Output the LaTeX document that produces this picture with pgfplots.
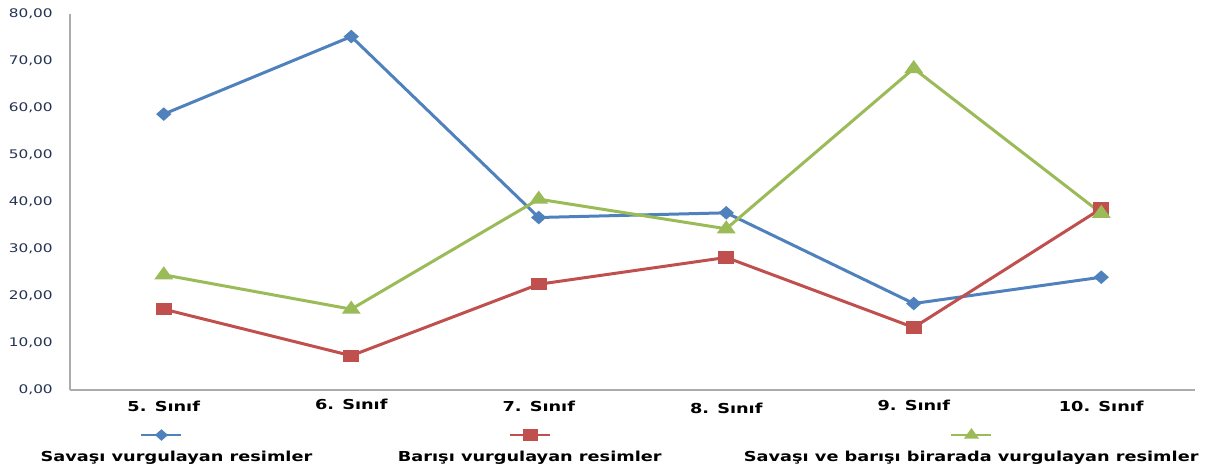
\documentclass[border=0pt]{standalone}
\usepackage{fontspec}
\setmainfont{DejaVu Sans}[FakeStretch=1.29]
\usepackage{pgfplots}
\pgfplotsset{compat=1.18}
\definecolor{sblue}{HTML}{4F81BD}
\definecolor{sred}{HTML}{C0504D}
\definecolor{sgreen}{HTML}{9BBB59}
\definecolor{ytxt}{HTML}{253352}
\pgfplotsset{
  legblue/.style={legend image code/.code={\draw[overlay,##1,line width=2pt,mark size=3pt,mark repeat=2,mark phase=2] plot coordinates {(76.7pt,19.5pt)(91.7pt,19.5pt)(106.7pt,19.5pt)};\path (0pt,0pt);}},
  legred/.style={legend image code/.code={\draw[overlay,##1,line width=2pt,mark repeat=2,mark phase=2] plot coordinates {(85.5pt,19.5pt)(100.5pt,19.5pt)(115.5pt,19.5pt)};\path (0pt,0pt);}},
  leggreen/.style={legend image code/.code={\draw[overlay,##1,line width=2pt,mark size=3.5pt,mark repeat=2,mark phase=2] plot coordinates {(156.75pt,19.5pt)(171.75pt,19.5pt)(186.75pt,19.5pt)};\path (0pt,0pt);}},
}
\begin{document}
\begin{tikzpicture}
\useasboundingbox (0,0) rectangle (907.5pt,351pt);
\begin{axis}[
  at={(52.5pt,58.5pt)}, anchor=south west,
  scale only axis, width=843.75pt, height=282pt,
  xmin=-0.5, xmax=5.5, ymin=0, ymax=80,
  clip=false,
  axis x line*=bottom, axis y line*=left,
  axis line style={draw=gray!65, line width=1.2pt, -},
  xtick={0,1,2,3,4,5}, ytick={0,10,...,80},
  major tick length=0pt,
  xticklabels={{\raisebox{-0.4pt}{5. Sınıf}},{\raisebox{1.1pt}{6. Sınıf}},{7. Sınıf},{\raisebox{-1.5pt}{8. Sınıf}},{\raisebox{0.4pt}{9. Sınıf}},{10. Sınıf}},
  xticklabel style={anchor=base, inner sep=0pt, yshift=-15.75pt, font=\fontsize{10.3pt}{12pt}\selectfont\bfseries},
  yticklabel style={anchor=east, inner sep=0pt, xshift=-12.75pt, font=\fontsize{8.9pt}{10pt}\selectfont, text=ytxt,
    /pgf/number format/fixed, /pgf/number format/fixed zerofill, /pgf/number format/precision=2,
    /pgf/number format/use comma, /pgf/number format/assume math mode=true},
  legend style={at={(axis description cs:-0.02872,-0.1605)}, anchor=north west, draw=none, fill=none,
    inner sep=0pt, outer sep=0pt, /tikz/column sep=0pt, /tikz/row sep=0pt,
    font=\fontsize{10.3pt}{12pt}\selectfont\bfseries,
    nodes={inner sep=0pt, text height=8pt, text depth=2.5pt},
    cells={anchor=base west}},
  legend columns=3,
]
\addplot[sblue, line width=2.25pt, mark=diamond*, mark size=3.6pt, mark options={solid, xscale=1.5}, legblue]
  coordinates {(0,58.7) (1,75.2) (2,36.7) (3,37.7) (4,18.4) (5,24.0)};
\addlegendentry{\makebox[265.7pt][l]{Savaşı vurgulayan resimler}}
\addplot[sred, line width=2.25pt, mark=square*, mark size=3.5pt, mark options={solid, xscale=1.4}, legred]
  coordinates {(0,17.2) (1,7.3) (2,22.5) (3,28.2) (4,13.3) (5,38.6)};
\addlegendentry{\makebox[257.25pt][l]{Barışı vurgulayan resimler}}
\addplot[sgreen, line width=2.25pt, mark=triangle*, mark size=4.5pt, mark options={solid, xscale=1.25}, leggreen]
  coordinates {(0,24.5) (1,17.2) (2,40.6) (3,34.3) (4,68.4) (5,37.6)};
\addlegendentry{Savaşı ve barışı birarada vurgulayan resimler}
\end{axis}
\end{tikzpicture}
\end{document}
